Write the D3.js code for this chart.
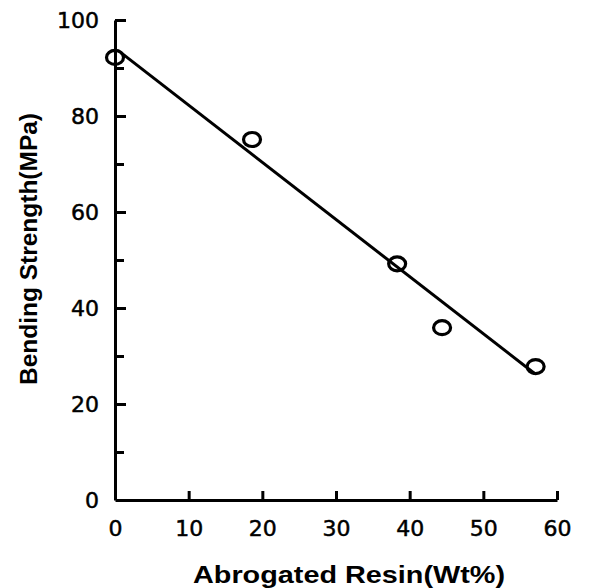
<!DOCTYPE html>
<html>
<head>
<meta charset="utf-8">
<script src="https://cdn.jsdelivr.net/npm/d3@7"></script>
<style>
  body { margin: 0; background: #fff; }
</style>
</head>
<body>
<div id="viz"></div>
<script>
// measured points (abrogated resin wt% vs bending strength)
var resinWt = [0, 18.6, 38.3, 44.4, 57.1];
var strength = [92.2, 75.1, 49.2, 35.9, 27.8];

// fitted straight line, two ends
var fitWt = [0.8, 57];
var fitStrength = [93.2, 26.3];

var xTicks = [0, 10, 20, 30, 40, 50, 60];
var yTicks = [0, 20, 40, 60, 80, 100];
var yMinorTicks = [10, 30, 50, 70, 90];

var svg = d3.select("#viz")
    .append("svg")
    .attr("width", 601)
    .attr("height", 588);

var x = d3.scaleLinear().domain([0, 60]).range([115, 557]);
var y = d3.scaleLinear().domain([0, 100]).range([500, 20]);

// x axis, ticks pointing up
var gx = svg.append("g")
    .attr("transform", "translate(0,500)")
    .call(d3.axisBottom(x).tickValues(xTicks).tickSizeInner(-9).tickSizeOuter(0).tickPadding(20));
gx.selectAll(".tick").filter(function(d){ return d === 0; }).select("line").remove();

// y axis, ticks pointing right
var gy = svg.append("g")
    .attr("transform", "translate(115,0)")
    .call(d3.axisLeft(y).tickValues(yTicks).tickSizeInner(-11).tickSizeOuter(0).tickPadding(16));
gy.selectAll(".tick").filter(function(d){ return d === 0; }).select("line").remove();

var gyMinor = svg.append("g")
    .attr("transform", "translate(115,0)")
    .call(d3.axisLeft(y).tickValues(yMinorTicks).tickSizeInner(-9).tickSizeOuter(0).tickFormat(""));
gyMinor.select(".domain").remove();

svg.selectAll(".domain, .tick line")
    .attr("stroke", "#000")
    .attr("stroke-width", 3);

svg.selectAll(".tick text")
    .attr("fill", "#000")
    .attr("stroke", "#000")
    .attr("stroke-width", 0.5)
    .style("font-family", "DejaVu Sans")
    .style("font-size", "22px");

// fit line
var fit = fitWt.map(function(d, i){ return [d, fitStrength[i]]; });
svg.append("path")
    .datum(fit)
    .attr("d", d3.line().x(function(d){ return x(d[0]); }).y(function(d){ return y(d[1]); }))
    .attr("fill", "none")
    .attr("stroke", "#000")
    .attr("stroke-width", 3);

// open markers
svg.selectAll("ellipse.pt")
    .data(resinWt)
    .enter()
    .append("ellipse")
    .attr("class", "pt")
    .attr("cx", function(d){ return x(d); })
    .attr("cy", function(d, i){ return y(strength[i]); })
    .attr("rx", 8.5)
    .attr("ry", 7)
    .attr("fill", "none")
    .attr("stroke", "#000")
    .attr("stroke-width", 3.2);

// axis titles
svg.append("text")
    .attr("x", 349)
    .attr("y", 583)
    .attr("text-anchor", "middle")
    .attr("textLength", 312)
    .attr("lengthAdjust", "spacingAndGlyphs")
    .style("font-family", "Liberation Sans, Arial, sans-serif")
    .style("font-weight", "bold")
    .style("font-size", "24px")
    .text("Abrogated Resin(Wt%)");

svg.append("text")
    .attr("transform", "translate(37,249) rotate(-90)")
    .attr("text-anchor", "middle")
    .attr("textLength", 272)
    .attr("lengthAdjust", "spacingAndGlyphs")
    .style("font-family", "Liberation Sans, Arial, sans-serif")
    .style("font-weight", "bold")
    .style("font-size", "23px")
    .text("Bending Strength(MPa)");
</script>
</body>
</html>
